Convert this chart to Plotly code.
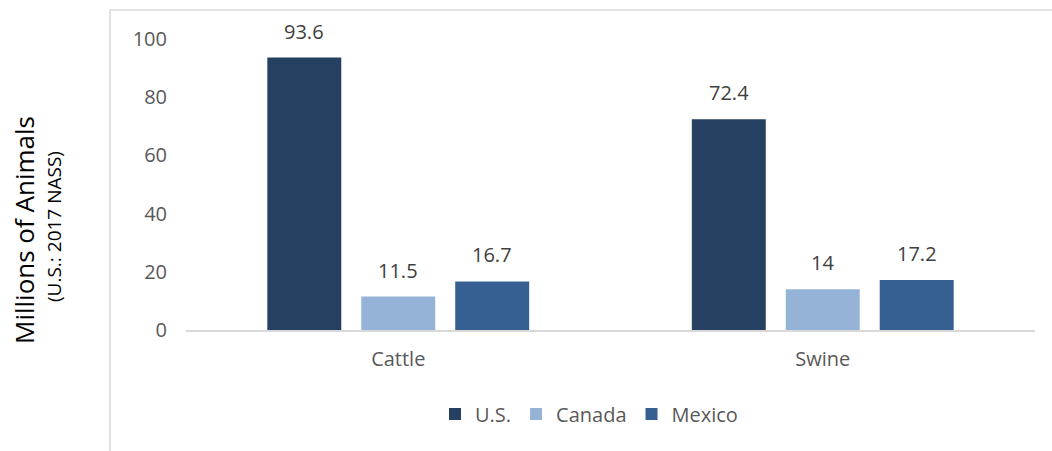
import plotly.graph_objects as go

categories = ["Cattle", "Swine"]
us = [93.6, 72.4]
canada = [11.5, 14]
mexico = [16.7, 17.2]
series_names = ["U.S.", "Canada", "Mexico"]
colors = ["#264061", "#95B3D7", "#366092"]

FONT = "Open Sans"
series = [us, canada, mexico]

fig = go.Figure()
for name, vals, col in zip(series_names, series, colors):
    fig.add_trace(go.Bar(x=categories, y=vals, name=name, marker_color=col,
                         marker_line_width=0))

annotations = []
for i, vals in enumerate(series):
    for c, v in zip(categories, vals):
        annotations.append(dict(x=c, y=v, text=f"{v:g}", showarrow=False,
                                xref="x", yref="y", yanchor="bottom",
                                xshift=(i - 1) * 94, yshift=11,
                                font=dict(family=FONT, size=20, color="#404040")))

annotations.append(dict(text="Millions of Animals", textangle=-90, showarrow=False,
                        xref="paper", yref="paper", x=(24 - 186) / 849, y=(330 - 230) / 291,
                        xanchor="center", yanchor="middle",
                        font=dict(family=FONT, size=26, color="#000000")))
annotations.append(dict(text="(U.S.: 2017 NASS)", textangle=-90, showarrow=False,
                        xref="paper", yref="paper", x=(54 - 186) / 849, y=(330 - 227) / 291,
                        xanchor="center", yanchor="middle",
                        font=dict(family=FONT, size=19, color="#000000")))

fig.update_layout(
    width=1052, height=451,
    margin=dict(l=186, r=17, t=39, b=121),
    paper_bgcolor="white", plot_bgcolor="white",
    barmode="group", bargap=0.336, bargroupgap=0.213,
    showlegend=True,
    legend=dict(orientation="h", x=(589 - 186) / 849, xanchor="center",
                y=(330 - 414) / 291, yanchor="middle",
                font=dict(family=FONT, size=20, color="#595959"),
                itemwidth=30, traceorder="normal"),
    annotations=annotations,
    shapes=[dict(type="rect", xref="paper", yref="paper",
                 x0=(110 - 186) / 849, x1=2, y0=-2, y1=(330 - 10) / 291,
                 line=dict(color="#d9d9d9", width=1.5), layer="below")],
    xaxis=dict(showline=True, linecolor="#d9d9d9", linewidth=1.5, showgrid=False,
               ticks="outside", ticklen=10, tickcolor="white",
               tickfont=dict(family=FONT, size=20, color="#595959")),
    yaxis=dict(range=[0, 100], dtick=20, showgrid=False, showline=False, zeroline=False,
               ticks="outside", ticklen=14, tickcolor="white",
               tickfont=dict(family=FONT, size=20, color="#595959")),
)

fig.write_html("out.html", config={"displayModeBar": False},
               post_script="document.body.style.margin='0';document.body.style.overflow='hidden';")
